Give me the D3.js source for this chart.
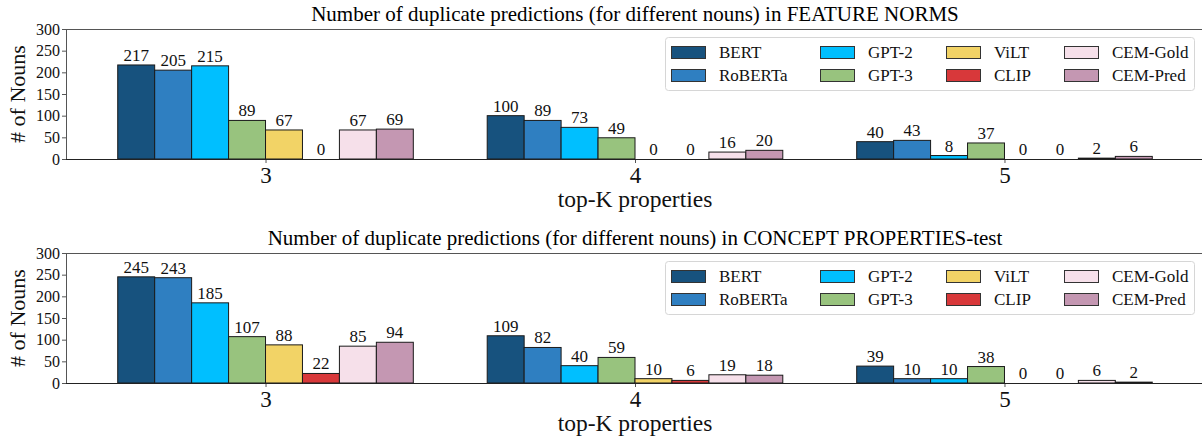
<!DOCTYPE html>
<html><head><meta charset="utf-8">
<script src="https://cdn.jsdelivr.net/npm/d3@7"></script>
<style>
html,body{margin:0;padding:0;background:#fff;}
svg{display:block;font-family:"Liberation Serif","DejaVu Serif",serif;}
svg text{font-family:"Liberation Serif","DejaVu Serif",serif;}
</style></head>
<body><svg id="c" width="1202" height="439"></svg>
<script>
const categories = ["3", "4", "5"];
const models = ["BERT","RoBERTa","GPT-2","GPT-3","ViLT","CLIP","CEM-Gold","CEM-Pred"];
const colors = ["#17527e","#2f7fc1","#00bfff","#98c37e","#f2d366","#d8383a","#f6e0ea","#c497b2"];
const yTicks = [0,50,100,150,200,250,300];
const titles = [
  "Number of duplicate predictions (for different nouns) in FEATURE NORMS",
  "Number of duplicate predictions (for different nouns) in CONCEPT PROPERTIES-test"
];
// values[model][category]
const featureNorms = [
  [217,100,40],[205,89,43],[215,73,8],[89,49,37],[67,0,0],[0,0,0],[67,16,2],[69,20,6]
];
const conceptProps = [
  [245,109,39],[243,82,10],[185,40,10],[107,59,38],[88,10,0],[22,6,0],[85,19,6],[94,18,2]
];
const panelsData = [featureNorms, conceptProps];

const svg = d3.select("#c");
const left = 66, right = 1204, h = 130;
const tops = [29, 253];
const x = d3.scaleLinear().domain([-0.54, 2.54]).range([left, right]);
const barW = 0.1; // in category units

panelsData.forEach((data, p) => {
  const top = tops[p], bottom = top + h;
  const y = d3.scaleLinear().domain([0,300]).range([bottom, top]);
  const g = svg.append("g");

  // title
  g.append("text").attr("x", (left+right)/2).attr("y", top-8)
    .attr("text-anchor","middle").attr("font-size",21).attr("fill","#000").text(titles[p]);

  // bars
  data.forEach((vals, m) => {
    vals.forEach((v, c) => {
      const x0 = x(c - 0.4 + m*barW), x1 = x(c - 0.4 + (m+1)*barW);
      g.append("rect").attr("x", x0).attr("y", y(v)).attr("width", x1-x0)
        .attr("height", y(0)-y(v)).attr("fill", colors[m])
        .attr("stroke","#1a1a1a").attr("stroke-width",1);
      g.append("text").attr("x",(x0+x1)/2).attr("y", y(v)-4)
        .attr("text-anchor","middle").attr("font-size",17).attr("fill","#111").text(v);
    });
  });

  // y axis
  const ya = g.append("g").attr("transform",`translate(${left},0)`)
    .call(d3.axisLeft(y).tickValues(yTicks).tickSize(4).tickPadding(2));
  ya.attr("font-family", null);
  ya.select(".domain").remove();
  ya.selectAll("line").attr("stroke","#555");
  ya.selectAll("text").attr("font-size",16).attr("fill","#111");

  // x axis
  const xa = g.append("g").attr("transform",`translate(0,${bottom})`)
    .call(d3.axisBottom(x).tickValues([0,1,2]).tickFormat(i => categories[i]).tickSize(4).tickPadding(4));
  xa.attr("font-family", null);
  xa.select(".domain").remove();
  xa.selectAll("line").attr("stroke","#555");
  xa.selectAll("text").attr("font-size",23).attr("fill","#111");

  // spines
  g.append("line").attr("x1",left+0.5).attr("x2",left+0.5).attr("y1",top).attr("y2",bottom)
    .attr("stroke","#555").attr("stroke-width",1);
  g.append("line").attr("x1",left).attr("x2",right).attr("y1",top+0.5).attr("y2",top+0.5)
    .attr("stroke","#555").attr("stroke-width",1);
  g.append("line").attr("x1",left).attr("x2",right).attr("y1",bottom+0.5).attr("y2",bottom+0.5)
    .attr("stroke","#222").attr("stroke-width",1);

  // axis labels
  g.append("text").attr("x",(left+right)/2).attr("y",bottom+48)
    .attr("text-anchor","middle").attr("font-size",23.5).attr("fill","#111").text("top-K properties");
  g.append("text").attr("transform",`translate(25,${(top+bottom)/2}) rotate(-90)`)
    .attr("text-anchor","middle").attr("font-size",22).attr("fill","#111").text("# of Nouns");

  // legend
  const ly = top + 8;
  const lg = g.append("g");
  lg.append("rect").attr("x",665.5).attr("y",ly+0.5).attr("width",529).attr("height",53)
    .attr("rx",3).attr("fill","#fff").attr("fill-opacity",0.85).attr("stroke","#d6d6d6");
  const colX = [671, 820, 946, 1064];
  models.forEach((mName, m) => {
    const col = Math.floor(m/2), row = m%2;
    const cy = ly + 15 + row*23;
    lg.append("rect").attr("x",colX[col]+0.5).attr("y",cy-6+0.5).attr("width",34).attr("height",12)
      .attr("fill",colors[m]).attr("stroke","#333").attr("stroke-width",1);
    lg.append("text").attr("x",colX[col]+48).attr("y",cy+6)
      .attr("font-size",17).attr("fill","#111").text(mName);
  });
});
</script></body></html>
